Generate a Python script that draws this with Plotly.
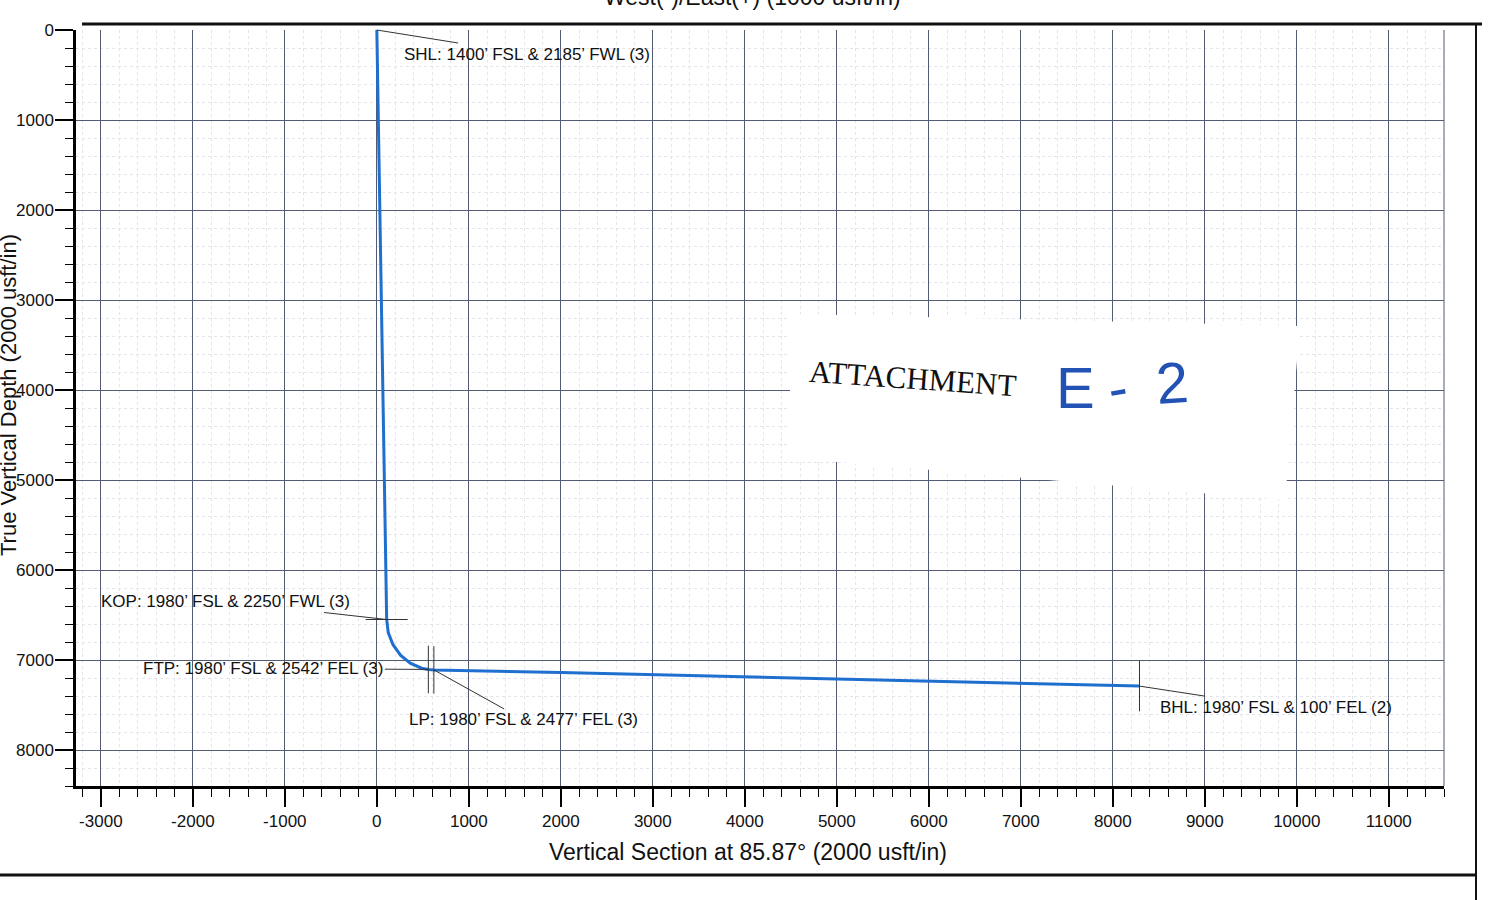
import plotly.graph_objects as go

# ---- data ----
traj_vs = [0, 30, 60, 90, 107, 124, 176, 220, 257, 363, 487, 560, 620, 2000, 4000, 6000, 8290]
traj_tvd = [0, 2000, 4000, 5500, 6550, 6695, 6830, 6900, 6946, 7035, 7091, 7105, 7110, 7140, 7190, 7240, 7290]

pt_names = ["SHL", "KOP", "FTP", "LP", "BHL"]
pt_vs = [0, 107, 560, 620, 8290]
pt_tvd = [0, 6550, 7105, 7110, 7290]
pt_labels = [
    "SHL: 1400’ FSL & 2185’ FWL (3)",
    "KOP: 1980’ FSL & 2250’ FWL (3)",
    "FTP: 1980’ FSL & 2542’ FEL (3)",
    "LP: 1980’ FSL & 2477’ FEL (3)",
    "BHL: 1980’ FSL & 100’ FEL (2)",
]
x_ticks = list(range(-3000, 12000, 1000))
y_ticks = list(range(0, 9000, 1000))

# ---- layout constants ----
W_FIG, H_FIG = 1507, 900
L, R, T, B = 76, 1444, 30, 786
PW, PH = R - L, B - T

def px(x):
    return (x - L) / PW

def py(y):
    return (B - y) / PH

FONT = "Liberation Sans, Arial, sans-serif"
BLUE = "#1f6fcf"
GRID = "#535b72"
INK = "#111111"

fig = go.Figure()
fig.add_trace(go.Scatter(x=traj_vs, y=traj_tvd, mode="lines",
                         line=dict(color=BLUE, width=3), hoverinfo="skip",
                         showlegend=False))

# point markers (ticks)
marker_symbols = {"SHL": "line-ew", "KOP": "line-ew", "FTP": "line-ns", "LP": "line-ns", "BHL": "line-ns"}
marker_sizes = {"SHL": 0, "KOP": 30, "FTP": 34, "LP": 34, "BHL": 36}
for n, xv, yv in zip(pt_names, pt_vs, pt_tvd):
    if marker_sizes[n] == 0:
        continue
    fig.add_trace(go.Scatter(x=[xv], y=[yv], mode="markers",
                             marker=dict(symbol=marker_symbols[n], size=marker_sizes[n],
                                         line=dict(color="#333333", width=1)),
                             hoverinfo="skip", showlegend=False))

# labels with leader lines
offsets = {"SHL": (150, 24), "KOP": (-161, -18), "FTP": (-165, -1), "LP": (90, 50), "BHL": (137, 21)}
for n, xv, yv, lab in zip(pt_names, pt_vs, pt_tvd, pt_labels):
    ax, ay = offsets[n]
    fig.add_annotation(x=xv, y=yv, xref="x", yref="y", text=lab, showarrow=True,
                       ax=ax, ay=ay, axref="pixel", ayref="pixel",
                       arrowhead=0, arrowwidth=1, arrowcolor="#333333", standoff=0,
                       font=dict(family=FONT, size=17, color=INK),
                       xanchor="center", yanchor="middle")

# axis titles (the scanned page is cut at its edges)
fig.add_annotation(x=px(748), y=py(852), xref="paper", yref="paper",
                   xanchor="center", yanchor="middle",
                   text="Vertical Section at 85.87° (2000 usft/in)", showarrow=False,
                   font=dict(family=FONT, size=23, color=INK))
fig.add_annotation(x=px(8), y=py(395), xref="paper", yref="paper",
                   xanchor="center", yanchor="middle",
                   text="True Vertical Depth (2000 usft/in)", showarrow=False, textangle=-90,
                   font=dict(family=FONT, size=22, color=INK))
fig.add_annotation(x=px(752), y=py(12), xref="paper", yref="paper",
                   xanchor="center", yanchor="bottom",
                   text="West(-)/East(+) (1000 usft/in)", showarrow=False,
                   font=dict(family=FONT, size=23, color=INK))

# attachment sticker
sx = [790, 1300, 1285, 790]
sy = [314, 326, 500, 458]
path = "M " + " L ".join(f"{px(a):.4f},{py(b):.4f}" for a, b in zip(sx, sy)) + " Z"
fig.add_shape(type="path", path=path, xref="paper", yref="paper",
              fillcolor="white", line=dict(color="rgba(0,0,0,0)", width=0), layer="above")
fig.add_annotation(x=px(913), y=py(378), xref="paper", yref="paper", text="ATTACHMENT",
                   xanchor="center", yanchor="middle", showarrow=False, textangle=4,
                   font=dict(family="Liberation Serif, Times New Roman, serif", size=31, color=INK))
hand = [("E", 1075, 388, 58, 0), ("-", 1117, 388, 58, -10), ("2", 1172, 382, 58, -4)]
for ch, hx, hy, hs, ang in hand:
    fig.add_annotation(x=px(hx), y=py(hy), xref="paper", yref="paper", text=ch,
                       xanchor="center", yanchor="middle", showarrow=False, textangle=ang,
                       font=dict(family="Liberation Sans, sans-serif", size=hs, color="#2352b5"))

# page frame lines
fig.add_shape(type="line", xref="paper", yref="paper", x0=px(82), x1=px(1482), y0=py(24), y1=py(24),
              line=dict(color=INK, width=3), layer="above")
fig.add_shape(type="line", xref="paper", yref="paper", x0=px(1476), x1=px(1476), y0=py(24), y1=py(900),
              line=dict(color=INK, width=2), layer="above")
fig.add_shape(type="line", xref="paper", yref="paper", x0=px(0), x1=px(1476), y0=py(875), y1=py(875),
              line=dict(color=INK, width=3), layer="above")
fig.add_shape(type="line", xref="paper", yref="paper", x0=1, x1=1, y0=0, y1=1,
              line=dict(color=GRID, width=1), layer="below")

axis_common = dict(
    showline=True, linecolor="black", linewidth=2.5,
    ticks="outside", ticklen=18, tickwidth=1.5, tickcolor="black",
    showgrid=True, gridcolor=GRID, gridwidth=1,
    zeroline=False,
    tickfont=dict(family=FONT, size=17, color=INK),
    minor=dict(dtick=200, ticks="outside", ticklen=8, tickcolor="black", tickwidth=1,
               showgrid=True, gridcolor="#e3e5eb", griddash="dot", gridwidth=1),
)

fig.update_layout(
    width=W_FIG, height=H_FIG,
    margin=dict(l=L, r=W_FIG - R, t=T, b=H_FIG - B, pad=0),
    paper_bgcolor="white", plot_bgcolor="white",
    showlegend=False,
    xaxis=dict(range=[-3270, 11600], tickmode="array", tickvals=x_ticks,
               ticktext=[str(v) for v in x_ticks], **axis_common),
    yaxis=dict(range=[8400, 0], tickmode="array", tickvals=y_ticks,
               ticktext=[str(v) for v in y_ticks], ticklabelstandoff=-2, **axis_common),
)

fig.write_html("out.html", config={"displayModeBar": False},
               post_script="document.body.style.margin='0';")
